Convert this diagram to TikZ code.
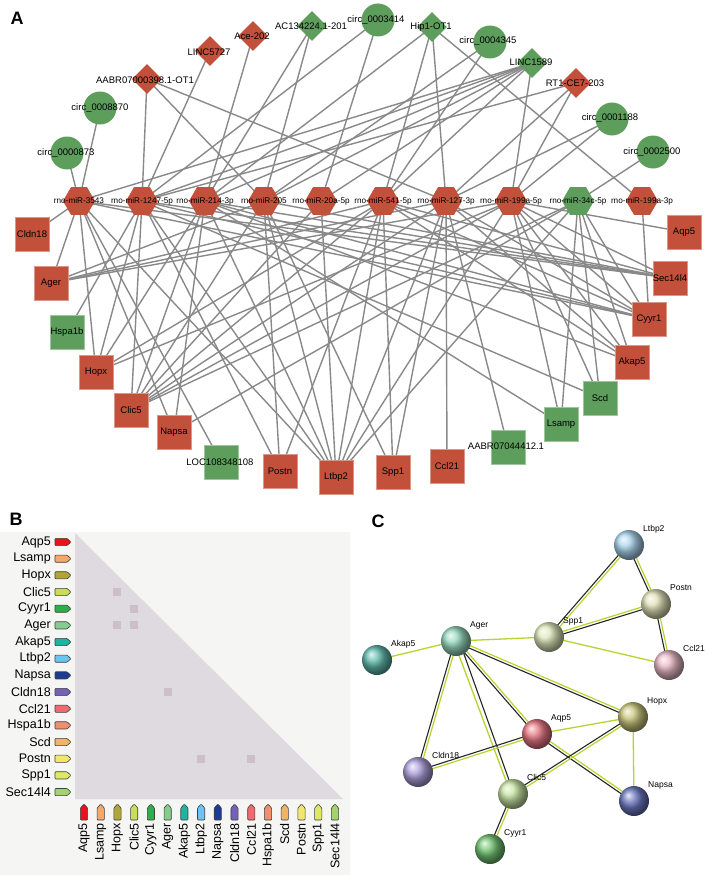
\documentclass[tikz,border=0pt]{standalone}
\usepackage{fontspec}
\setmainfont{Liberation Sans}
\usetikzlibrary{shapes.geometric,calc}
\pgfdeclarelayer{bg}
\pgfsetlayers{bg,main}
\definecolor{nred}{HTML}{C2503A}
\definecolor{ngreen}{HTML}{5E9E5C}
\definecolor{edgegray}{HTML}{898989}
\definecolor{bbg}{HTML}{F5F5F3}
\definecolor{tri}{HTML}{DEDAE0}
\definecolor{cellc}{HTML}{CDBFC7}
\definecolor{stry}{HTML}{B5D62E}
\definecolor{k1}{HTML}{E8141B}
\definecolor{k2}{HTML}{F7A767}
\definecolor{k3}{HTML}{AFA53A}
\definecolor{k4}{HTML}{C9DD5A}
\definecolor{k5}{HTML}{2EAE48}
\definecolor{k6}{HTML}{86CC8E}
\definecolor{k7}{HTML}{1FB3A1}
\definecolor{k8}{HTML}{6CC5F0}
\definecolor{k9}{HTML}{1F3A93}
\definecolor{k10}{HTML}{7562B6}
\definecolor{k11}{HTML}{F06A70}
\definecolor{k12}{HTML}{F08E6E}
\definecolor{k13}{HTML}{F0B468}
\definecolor{k14}{HTML}{F3E66E}
\definecolor{k15}{HTML}{DDE866}
\definecolor{k16}{HTML}{A3D26E}
\newcommand{\dblline}[2]{%
  \draw[stry, line width=1.2pt] ($(#1)!1.3pt!90:(#2)$) -- ($(#2)!1.3pt!-90:(#1)$);
  \draw[black!85, line width=1.1pt] ($(#1)!1.3pt!-90:(#2)$) -- ($(#2)!1.3pt!90:(#1)$);}
\begin{document}
\begin{tikzpicture}[x=1pt,y=-1pt,
  hexr/.style={regular polygon, regular polygon sides=6, minimum size=32pt, inner sep=0pt, fill=nred},
  hexg/.style={hexr, fill=ngreen},
  dmdr/.style={diamond, minimum width=30pt, minimum height=30pt, inner sep=0pt, fill=nred},
  dmdg/.style={dmdr, fill=ngreen},
  circg/.style={circle, minimum size=33pt, inner sep=0pt, fill=ngreen},
  sqr/.style={rectangle, minimum size=34pt, inner sep=0pt, fill=nred, draw=nred!60!white, line width=0.6pt},
  sqg/.style={sqr, fill=ngreen, draw=ngreen!60!white},
  lbl/.style={font=\fontsize{9.5}{11}\selectfont, inner sep=0pt},
  mlbl/.style={font=\fontsize{8.2}{9}\selectfont, inner sep=0pt},
  edge/.style={draw=edgegray, line width=1.4pt},
  panel/.style={font=\fontsize{18}{20}\selectfont\bfseries, inner sep=0pt},
  blbl/.style={font=\fontsize{12.5}{14}\selectfont, inner sep=0pt},
  clbl/.style={font=\fontsize{8.5}{10}\selectfont, inner sep=0pt, anchor=base west},
  ystr/.style={stry, line width=1.3pt}]
\useasboundingbox (0,0) rectangle (708,875);
\begin{pgfonlayer}{bg}
\fill[white] (0,0) rectangle (708,875);
\end{pgfonlayer}

% ---------------- Panel A ----------------
\node[panel] (pA) at (17,18) {A};
% miRNAs
\node[hexr] (m1) at (79,201) {};
\node[hexr] (m2) at (142,201) {};
\node[hexr] (m3) at (205,201) {};
\node[hexr] (m4) at (264,201) {};
\node[hexr] (m5) at (321,201) {};
\node[hexr] (m6) at (383,201) {};
\node[hexr] (m7) at (446,201) {};
\node[hexr] (m8) at (511,201) {};
\node[hexg] (m9) at (578,201) {};
\node[hexr] (m10) at (642,201) {};
\node[mlbl] (m1t) at (m1) {rno-miR-3543};
\node[mlbl] (m2t) at (m2) {rno-miR-1247-5p};
\node[mlbl] (m3t) at (m3) {rno-miR-214-3p};
\node[mlbl] (m4t) at (m4) {rno-miR-205};
\node[mlbl] (m5t) at (m5) {rno-miR-20a-5p};
\node[mlbl] (m6t) at (m6) {rno-miR-541-5p};
\node[mlbl] (m7t) at (m7) {rno-miR-127-3p};
\node[mlbl] (m8t) at (m8) {rno-miR-199a-5p};
\node[mlbl] (m9t) at (m9) {rno-miR-34c-5p};
\node[mlbl] (m10t) at (m10) {rno-miR-199a-3p};
% top nodes
\node[circg] (c8870) at (100,108) {};
\node[circg] (c873) at (67,153) {};
\node[dmdr] (aabr) at (147,79) {};
\node[dmdr] (l5727) at (210,51) {};
\node[dmdr] (ace) at (253,36) {};
\node[dmdg] (ac134) at (312,26) {};
\node[circg] (c3414) at (378,20) {};
\node[dmdg] (hip1) at (432,27) {};
\node[circg] (c4345) at (490,42) {};
\node[dmdg] (l1589) at (532,63) {};
\node[dmdr] (rt1) at (576,83) {};
\node[circg] (c1188) at (612,119) {};
\node[circg] (c2500) at (653,152) {};
\node[lbl] (c8870t) at (100,108) {circ\_0008870};
\node[lbl] (c873t) at (66,153) {circ\_0000873};
\node[lbl] (aabrt) at (145,80) {AABR07000398.1-OT1};
\node[lbl] (l5727t) at (209,52) {LINC5727};
\node[lbl] (acet) at (252,36) {Ace-202};
\node[lbl] (ac134t) at (311,26) {AC134224.1-201};
\node[lbl] (c3414t) at (376,20) {circ\_0003414};
\node[lbl] (hip1t) at (431,27) {Hip1-OT1};
\node[lbl] (c4345t) at (488,41) {circ\_0004345};
\node[lbl] (l1589t) at (531,62) {LINC1589};
\node[lbl] (rt1t) at (575,83) {RT1-CE7-203};
\node[lbl] (c1188t) at (610,118) {circ\_0001188};
\node[lbl] (c2500t) at (652,152) {circ\_0002500};
% mRNAs
\node[sqr] (cldn18) at (32,234) {};
\node[sqr] (ager) at (51,283) {};
\node[sqg] (hspa) at (67,332) {};
\node[sqr] (hopx) at (96,372) {};
\node[sqr] (clic5) at (131,410) {};
\node[sqr] (napsa) at (174,432) {};
\node[sqg] (loc) at (221,462) {};
\node[sqr] (postn) at (280,471) {};
\node[sqr] (ltbp2) at (336,477) {};
\node[sqr] (spp1) at (393,472) {};
\node[sqr] (ccl21) at (447,466) {};
\node[sqg] (aabr44) at (508,447) {};
\node[sqg] (lsamp) at (561,424) {};
\node[sqg] (scd) at (600,398) {};
\node[sqr] (akap5) at (632,362) {};
\node[sqr] (cyyr1) at (649,319) {};
\node[sqr] (sec14) at (670,278) {};
\node[sqr] (aqp5) at (684,232) {};
\node[lbl] (cldn18t) at (cldn18) {Cldn18};
\node[lbl] (agert) at (ager) {Ager};
\node[lbl] (hspat) at (hspa) {Hspa1b};
\node[lbl] (hopxt) at (hopx) {Hopx};
\node[lbl] (clic5t) at (clic5) {Clic5};
\node[lbl] (napsat) at (napsa) {Napsa};
\node[lbl] (loct) at (220,462) {LOC108348108};
\node[lbl] (postnt) at (postn) {Postn};
\node[lbl] (ltbp2t) at (ltbp2) {Ltbp2};
\node[lbl] (spp1t) at (spp1) {Spp1};
\node[lbl] (ccl21t) at (ccl21) {Ccl21};
\node[lbl] (aabr44t) at (506,446) {AABR07044412.1};
\node[lbl] (lsampt) at (lsamp) {Lsamp};
\node[lbl] (scdt) at (scd) {Scd};
\node[lbl] (akap5t) at (akap5) {Akap5};
\node[lbl] (cyyr1t) at (cyyr1) {Cyyr1};
\node[lbl] (sec14t) at (sec14) {Sec14l4};
\node[lbl] (aqp5t) at (aqp5) {Aqp5};
\begin{pgfonlayer}{bg}
\foreach \a/\b in {c8870/m1, c873/m1, aabr/m2, aabr/m4, aabr/m7, l5727/m2, ace/m3,
  ac134/m4, ac134/m3, c3414/m2, c3414/m5, hip1/m10, hip1/m7, hip1/m6, hip1/m3,
  c4345/m4, c4345/m6, l1589/m1, l1589/m2, l1589/m3, l1589/m4, l1589/m5, l1589/m6, l1589/m8,
  rt1/m2, rt1/m7, rt1/m8, c1188/m7, c1188/m8, c2500/m9,
  cldn18/m1, ager/m1, ager/m4, ager/m6, ager/m7, ager/m8, hspa/m2,
  hopx/m1, hopx/m2, hopx/m3, hopx/m6, hopx/m8,
  clic5/m2, clic5/m3, clic5/m4, clic5/m5, clic5/m6, clic5/m7, clic5/m8, clic5/m9,
  napsa/m1, napsa/m3, napsa/m9, loc/m1, postn/m4, postn/m6, postn/m2,
  ltbp2/m1, ltbp2/m2, ltbp2/m3, ltbp2/m4, ltbp2/m5, ltbp2/m6, ltbp2/m7, ltbp2/m8, ltbp2/m9,
  spp1/m4, spp1/m6, spp1/m7, ccl21/m7, aabr44/m7, lsamp/m3, lsamp/m8, lsamp/m9,
  scd/m2, scd/m8, scd/m9, akap5/m3, akap5/m6, akap5/m7, akap5/m8, akap5/m9,
  cyyr1/m1, cyyr1/m2, cyyr1/m3, cyyr1/m6, cyyr1/m7, cyyr1/m8, cyyr1/m9, cyyr1/m10,
  sec14/m1, sec14/m2, sec14/m3, sec14/m4, sec14/m6, sec14/m8, aqp5/m8}
  \draw[edge] (\a.center) -- (\b.center);
\end{pgfonlayer}

% ---------------- Panel B ----------------
\node[panel] (pB) at (16,519) {B};
\fill[bbg] (0,532) rectangle (350,875);
\fill[tri] (75,533) -- (75,799) -- (343,799) -- cycle;
\foreach \cx/\ry in {3/4, 4/5, 3/6, 4/6, 6/10, 8/14, 11/14}
  \fill[cellc] ({84+(\cx-1)*16.73-4},{542+(\ry-1)*16.67-4}) rectangle ++(8,8);
\foreach \i/\n in {1/Aqp5,2/Lsamp,3/Hopx,4/Clic5,5/Cyyr1,6/Ager,7/Akap5,8/Ltbp2,9/Napsa,10/Cldn18,11/Ccl21,12/Hspa1b,13/Scd,14/Postn,15/Spp1,16/Sec14l4}{
  \pgfmathsetmacro{\yy}{542+(\i-1)*16.67}
  \pgfmathsetmacro{\xx}{84+(\i-1)*16.73}
  \node[blbl, anchor=east] (r\i) at (51,\yy) {\n};
  \filldraw[fill=k\i, draw=black!75, line width=0.6pt, rounded corners=0.8pt]
    (55,\yy-3.6) -- (67,\yy-3.6) -- (71,\yy) -- (67,\yy+3.6) -- (55,\yy+3.6) -- cycle;
  \filldraw[fill=k\i, draw=black!75, line width=0.6pt, rounded corners=0.8pt]
    (\xx-3.6,820) -- (\xx-3.6,808) -- (\xx,804) -- (\xx+3.6,808) -- (\xx+3.6,820) -- cycle;
  \node[blbl, rotate=90, anchor=east] (q\i) at (\xx,823) {\n};
}

% ---------------- Panel C ----------------
\node[panel] (pC) at (378,521) {C};
\coordinate (pLtbp2) at (629,545);
\coordinate (pPostn) at (656,604);
\coordinate (pSpp1) at (549,637);
\coordinate (pCcl21) at (669,665);
\coordinate (pAger) at (456,641);
\coordinate (pAkap5) at (377,660);
\coordinate (pHopx) at (633,717);
\coordinate (pAqp5) at (537,734);
\coordinate (pCldn18) at (418,772);
\coordinate (pClic5) at (513,794);
\coordinate (pNapsa) at (634,801);
\coordinate (pCyyr1) at (490,849);
\dblline{pLtbp2}{pSpp1}
\dblline{pLtbp2}{pPostn}
\dblline{pSpp1}{pPostn}
\dblline{pPostn}{pCcl21}
\draw[ystr] (pSpp1) -- (pCcl21);
\draw[ystr] (pAger) -- (pSpp1);
\draw[ystr] (pAger) -- (pAkap5);
\dblline{pAger}{pCldn18}
\draw[ystr] ($(pAger)+(-2,1)$) -- ($(pClic5)+(-2,0)$);
\draw[black!85, line width=1.1pt] ($(pAger)+(4,2)$) -- ($(pClic5)+(1,0)$);
\dblline{pAger}{pAqp5}
\dblline{pAger}{pHopx}
\draw[ystr] (pAqp5) -- (pHopx);
\dblline{pAqp5}{pCldn18}
\dblline{pAqp5}{pNapsa}
\dblline{pHopx}{pClic5}
\draw[ystr] (pHopx) -- (pNapsa);
\dblline{pClic5}{pCyyr1}
\foreach \p/\c in {Ltbp2/8EC6E8, Postn/D6D6A0, Spp1/D2E0A4, Ccl21/E2A2B4, Ager/74CBA8, Akap5/2AA291,
  Hopx/B8B252, Aqp5/E04A5A, Cldn18/9482D2, Clic5/B4DA84, Napsa/3A4AAA, Cyyr1/44B044}{
  \definecolor{bc}{HTML}{\c}
  \shade[ball color=bc!75!white] (p\p) circle[radius=15pt];
  \node[clbl] (l\p) at ($(p\p)+(14,-13.5)$) {\p};
}
\end{tikzpicture}
\end{document}
